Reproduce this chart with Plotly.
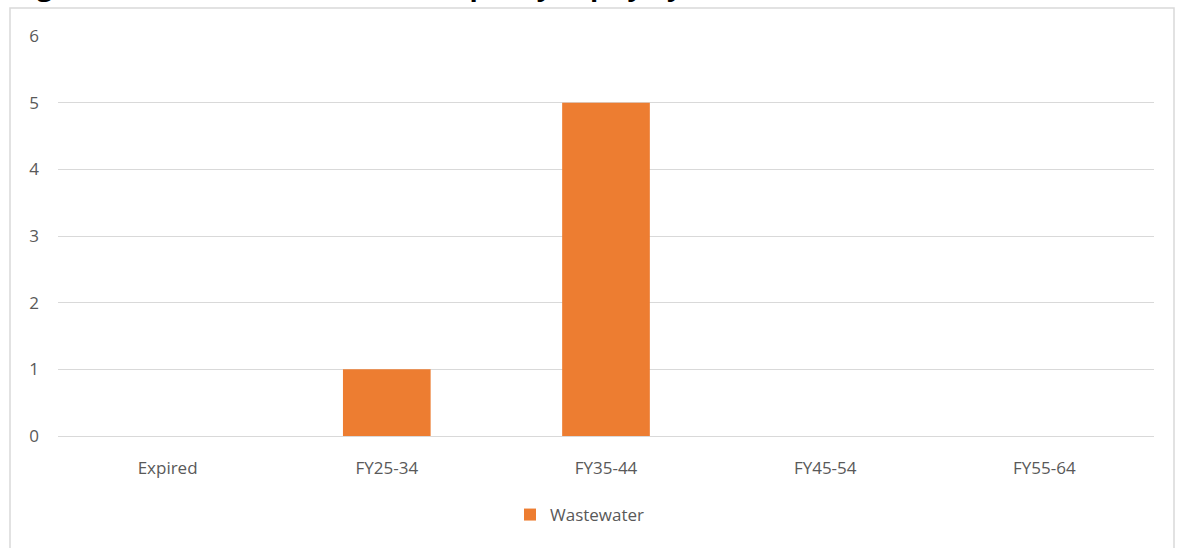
import plotly.graph_objects as go

# Data
categories = ["Expired", "FY25-34", "FY35-44", "FY45-54", "FY55-64"]
wastewater = [0, 1, 5, 0, 0]
y_ticks = [0, 1, 2, 3, 4, 5, 6]

W, H = 1177, 548
ML, MR, MT, MB = 58, 23, 36, 112
plot_h = H - MT - MB
plot_w = W - ML - MR


def px_x(x):
    return (x - ML) / plot_w


def px_y(y):
    return (H - MB - y) / plot_h


label_font = dict(family="Open Sans", size=17, color="#595959")

fig = go.Figure()
fig.add_trace(go.Bar(
    x=categories,
    y=wastewater,
    name="Wastewater",
    marker=dict(color="#ED7D31", line=dict(width=0)),
    width=0.4,
))

# outer chart frame
fig.add_shape(type="rect", xref="paper", yref="paper",
              x0=px_x(10), x1=px_x(1174), y0=px_y(600), y1=px_y(8),
              line=dict(color="#D9D9D9", width=1.5), fillcolor="rgba(0,0,0,0)",
              layer="below")

# figure caption above the frame (runs off the top of the page)
fig.add_annotation(xref="paper", yref="paper", x=px_x(12), y=px_y(6),
                   xanchor="left", yanchor="bottom", showarrow=False,
                   text="<b>Figure 4: Wastewater Resource Capacity Expiry by Fiscal Year</b>",
                   font=dict(family="Open Sans", size=27, color="#000000"))

fig.update_layout(
    width=W, height=H,
    margin=dict(l=ML, r=MR, t=MT, b=MB, pad=0),
    paper_bgcolor="white", plot_bgcolor="white",
    showlegend=True,
    legend=dict(orientation="h", x=px_x(510), y=px_y(515), xanchor="left", yanchor="middle",
                font=label_font, itemwidth=30, bgcolor="rgba(0,0,0,0)"),
    bargap=0.6,
    xaxis=dict(showgrid=False, showline=False, zeroline=False, ticks="",
               tickfont=label_font, ticklabelstandoff=20),
    yaxis=dict(range=[0, 6], tickvals=y_ticks, showgrid=True, gridcolor="#D9D9D9",
               gridwidth=1.3, zeroline=True, zerolinecolor="#D9D9D9", zerolinewidth=1.3,
               showline=False, ticks="", tickfont=label_font, ticklabelstandoff=18),
)

fig.write_html("out.html")
